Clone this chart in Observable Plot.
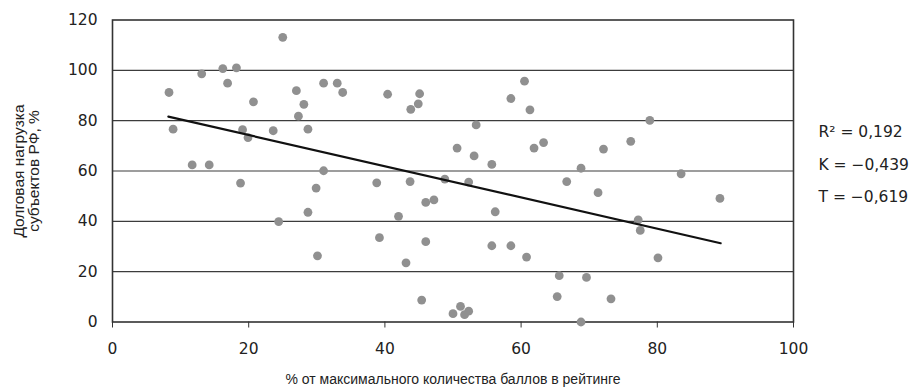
<!DOCTYPE html>
<html>
<head>
<meta charset="utf-8">
<script src="https://cdn.jsdelivr.net/npm/d3@7"></script>
<script src="https://cdn.jsdelivr.net/npm/@observablehq/plot@0.6"></script>
<style>
  html, body { margin: 0; padding: 0; background: #fff; }
  #chart { width: 909px; height: 388px; }
</style>
</head>
<body>
<div id="chart"></div>
<script>
// % of max rating score
const scoreX = [
  8.3, 8.9, 11.7, 14.2, 13.1, 16.2, 18.2, 16.9, 25.0, 20.7,
  19.1, 19.9, 23.6, 27.0, 28.1, 27.3, 28.7, 31.0, 33.0, 33.8,
  31.0, 18.8, 29.9, 28.7, 24.4, 30.1, 40.4, 45.1, 44.9, 43.8,
  60.5, 58.5, 61.3, 53.4, 50.6, 53.1, 55.7, 61.9, 63.3, 48.8,
  38.8, 43.7, 52.3, 66.7, 47.2, 46.0, 42.0, 56.2, 39.2, 46.0,
  43.1, 55.7, 58.5, 60.8, 65.6, 65.3, 45.4, 51.1, 52.3, 50.0,
  51.7, 78.9, 76.1, 72.1, 68.8, 83.5, 71.3, 89.2, 77.2, 77.5,
  80.1, 69.6, 73.2, 68.8
];
// debt load, %
const debtY = [
  91.2, 76.6, 62.4, 62.4, 98.6, 100.7, 101.0, 94.9, 113.1, 87.5,
  76.4, 73.3, 76.0, 91.9, 86.5, 81.8, 76.6, 94.9, 94.9, 91.2,
  60.1, 55.2, 53.2, 43.6, 39.9, 26.3, 90.5, 90.7, 86.7, 84.5,
  95.7, 88.8, 84.3, 78.3, 69.1, 66.0, 62.6, 69.1, 71.3, 56.8,
  55.3, 55.8, 55.6, 55.8, 48.5, 47.5, 42.0, 43.8, 33.5, 31.9,
  23.5, 30.3, 30.3, 25.8, 18.4, 10.1, 8.7, 6.2, 4.3, 3.3,
  2.9, 80.1, 71.8, 68.7, 61.1, 58.9, 51.4, 49.1, 40.6, 36.4,
  25.5, 17.7, 9.2, 0.0
];
// trend line end points
const trendX = [8.2, 89.3];
const trendY = [81.6, 31.3];
// tick values
const xTicks = [0, 20, 40, 60, 80, 100];
const yTicks = [0, 20, 40, 60, 80, 100, 120];
const gridY = [20, 40, 60, 80, 100];
// statistics annotation
const statLabels = ["R² = 0,192", "K = −0,439", "T = −0,619"];
const statY = [75.3, 62.3, 49.5];

const xLabel = "% от максимального количества баллов в рейтинге";
const yLabel = "Долговая нагрузка\nсубъектов РФ, %";

const points = scoreX.map((x, i) => ({x, y: debtY[i]}));
const trend = trendX.map((x, i) => ({x, y: trendY[i]}));
const stats = statLabels.map((t, i) => ({t, y: statY[i]}));

const chart = Plot.plot({
  width: 909,
  height: 388,
  marginLeft: 112,
  marginRight: 116,
  marginTop: 19.5,
  marginBottom: 66.5,
  style: {fontFamily: "DejaVu Sans, sans-serif", fontSize: "15px", color: "#222", background: "#fff"},
  x: {domain: [0, 100]},
  y: {domain: [0, 120]},
  marks: [
    Plot.ruleY(gridY, {stroke: "#3c3c3c", strokeWidth: 1.2}),
    Plot.frame({stroke: "#333", strokeWidth: 1.6}),
    Plot.axisX({ticks: xTicks, tickSize: 6, tickPadding: 15, label: null, stroke: "#333", fontSize: 15.5}),
    Plot.axisY({ticks: yTicks, tickSize: 0, tickPadding: 15, label: null, fontSize: 15.5}),
    Plot.dot(points, {x: "x", y: "y", r: 4.4, fill: "#909090", stroke: null}),
    Plot.line(trend, {x: "x", y: "y", stroke: "#111", strokeWidth: 2.2}),
    Plot.text(stats, {x: 100, y: "y", text: "t", dx: 25, textAnchor: "start", fontSize: 15.5, fill: "#222", clip: false}),
    Plot.text([xLabel], {frameAnchor: "bottom", dy: 62, text: d => d, fontSize: 14, fontFamily: "Liberation Sans, Arial, sans-serif", fill: "#222"}),
    Plot.text([yLabel], {frameAnchor: "left", dx: -86, rotate: -90, textAnchor: "middle", text: d => d, fontSize: 15.5, fontFamily: "Liberation Sans, Arial, sans-serif", fill: "#222", lineHeight: 1.0})
  ]
});
document.getElementById("chart").appendChild(chart);
</script>
</body>
</html>
